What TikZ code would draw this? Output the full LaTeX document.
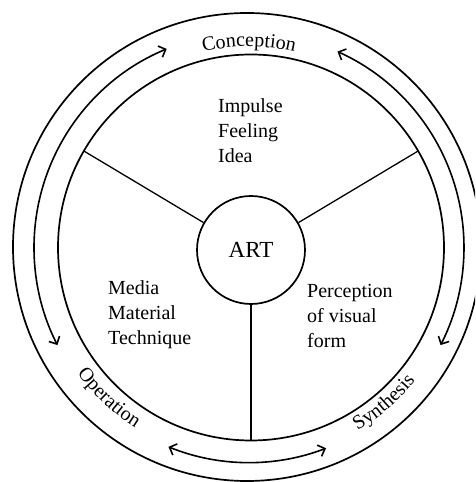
\documentclass[tikz,border=0pt]{standalone}
\usepackage{fontspec}
\setmainfont{Liberation Serif}
\usetikzlibrary{arrows.meta,decorations.text,calc}
\newcommand\labfont{\fontsize{20}{24}\selectfont}
\newcommand\artfont{\fontsize{23}{27}\selectfont}
\begin{document}
\begin{tikzpicture}[x=1pt,y=1pt,
  ring/.style={line width=1.7pt},
  spoke/.style={line width=1.3pt},
  cyc/.style={line width=1.6pt,
    {Straight Barb[length=6pt,width=12pt,line width=1.6pt]}-{Straight Barb[length=6pt,width=12pt,line width=1.6pt]}},
  txt/.style={font=\labfont, inner sep=0pt, anchor=base west},
  arclabel/.style={decorate, decoration={text along path, text align=center, text={|\labfont|#1}}}]
\useasboundingbox (0,0) rectangle (475,482);
\clip (0,0) rectangle (475,482);
% centres
\coordinate (oc) at (247,235);
\coordinate (ac) at (249,234.5);
\coordinate (ic) at (251,234.5);
% circles
\draw[ring] (oc) circle[radius=234];
\draw[ring] (ic) circle[radius=193];
\node[circle, draw, ring, minimum size=108pt, inner sep=0pt, font=\artfont] (art) at (251,232) {ART};
% spokes
\coordinate (s1) at ($(ic)+(30:193)$);
\coordinate (s2) at ($(ic)+(150:193)$);
\coordinate (s3) at ($(ic)+(270:193)$);
\draw[spoke] (art.30) -- (s1);
\draw[spoke] (art.150) -- (s2);
\draw[spoke] (art.270) -- (s3);
% cycle arrows
\coordinate (a1) at ($(ac)+(112.5:215)$);
\coordinate (a2) at ($(ac)+(65.7:215)$);
\coordinate (a3) at ($(ac)+(248:215)$);
\draw[cyc] (a1) arc[start angle=112.5, end angle=207, radius=215];
\draw[cyc] (a2) arc[start angle=65.7, end angle=-27, radius=215];
\draw[cyc] (a3) arc[start angle=248, end angle=291, radius=215];
% arc labels
\coordinate (l1) at ($(ac)+(130:201)$);
\coordinate (l2) at ($(ac)+(199:213)$);
\coordinate (l3) at ($(ac)+(283:213)$);
\path[arclabel=Conception] (l1) arc[start angle=130, end angle=50, radius=201];
\path[arclabel=Operation] (l2) arc[start angle=199, end angle=255, radius=213];
\path[arclabel=Synthesis] (l3) arc[start angle=283, end angle=339, radius=213];
% sector texts
\node[txt] (t1) at (218,369) {Impulse};
\node[txt] (t2) at (218,344) {Feeling};
\node[txt] (t3) at (218,319) {Idea};
\node[txt] (m1) at (108,187) {Media};
\node[txt] (m2) at (108,162) {Material};
\node[txt] (m3) at (108,137) {Technique};
\node[txt] (p1) at (307,184) {Perception};
\node[txt] (p2) at (307,159) {of visual};
\node[txt] (p3) at (307,134) {form};
\end{tikzpicture}
\end{document}
